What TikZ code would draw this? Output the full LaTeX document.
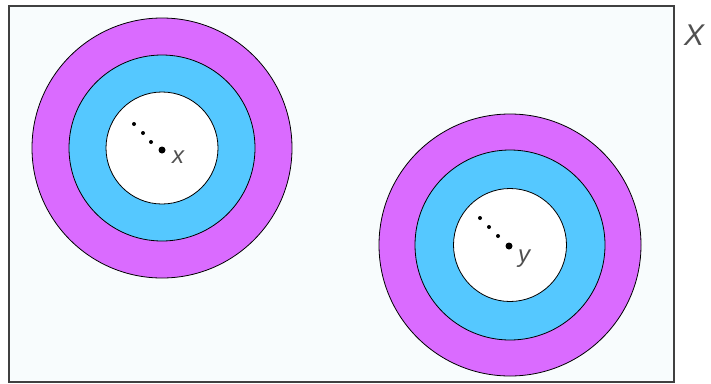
\documentclass[tikz,border=0pt]{standalone}
\usepackage{fontspec}
\setmainfont{Liberation Sans}
\definecolor{ringM}{HTML}{DA6BFF}
\definecolor{ringB}{HTML}{55C8FF}
\definecolor{bgc}{HTML}{F8FCFD}
\definecolor{lab}{HTML}{505050}
\tikzset{
  ring/.style={circle, draw=black, line width=0.8pt, inner sep=0pt},
  bigdot/.style={circle, fill=black, inner sep=0pt, minimum size=7pt},
  smalldot/.style={circle, fill=black, inner sep=0pt, minimum size=4pt},
  ptlabel/.style={font=\itshape\fontsize{24}{24}\selectfont, text=lab, inner sep=0pt},
}
\begin{document}
\begin{tikzpicture}[x=1pt,y=-1pt]
\useasboundingbox (0,0) rectangle (711,383);
\node[draw=black!75, line width=2pt, fill=bgc, minimum width=665pt, minimum height=376pt, inner sep=0pt, anchor=north west] (frame) at (8,5) {};
\node[ptlabel, font=\itshape\fontsize{30}{30}\selectfont] (X) at (694,35) {X};
% circle 1
\node[ring, fill=ringM, minimum size=260pt] (o1) at (162,148) {};
\node[ring, fill=ringB, minimum size=186pt] at (o1.center) (m1) {};
\node[ring, fill=white, minimum size=112pt] at (o1.center) (i1) {};
\node[bigdot] (p1) at (162,150) {};
\node[smalldot] at (134,124) {};
\node[smalldot] at (143,133) {};
\node[smalldot] at (151,142) {};
\node[ptlabel] (lx) at (178,157) {x};
% circle 2
\node[ring, fill=ringM, minimum size=262pt] (o2) at (510,245) {};
\node[ring, fill=ringB, minimum size=190pt] at (o2.center) (m2) {};
\node[ring, fill=white, minimum size=113pt] at (o2.center) (i2) {};
\node[bigdot] (p2) at (509,246) {};
\node[smalldot] at (480,218) {};
\node[smalldot] at (489,227) {};
\node[smalldot] at (498,236) {};
\node[ptlabel] (ly) at (524,259) {y};
\end{tikzpicture}
\end{document}
